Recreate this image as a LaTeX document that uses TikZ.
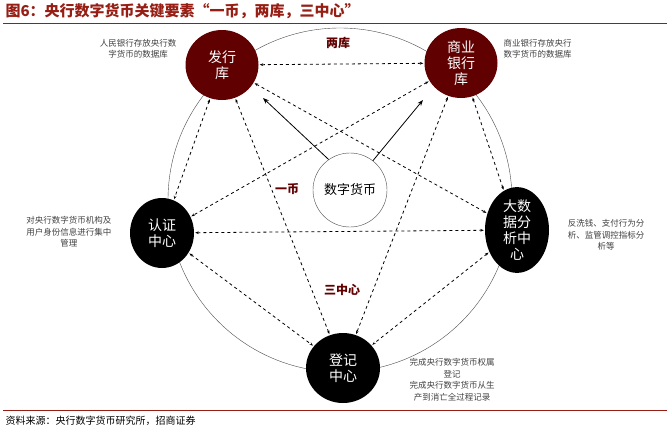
\documentclass[tikz,border=0pt]{standalone}
\usepackage{fontspec}
\setmainfont{Noto Sans CJK SC}
\usetikzlibrary{arrows.meta,shapes.geometric}
\definecolor{darkred}{RGB}{96,0,0}
\definecolor{titlered}{RGB}{150,30,20}

\begin{document}
\begin{tikzpicture}[x=1pt,y=-1pt,
  vault/.style={ellipse,fill=darkred,minimum width=73pt,minimum height=70pt,inner sep=0pt,
    text=white,align=center,font=\fontsize{14}{16}\selectfont},
  centre/.style={ellipse,fill=black,minimum width=64pt,minimum height=70pt,inner sep=0pt,
    text=white,align=center,font=\fontsize{14}{16}\selectfont},
  note/.style={align=center,font=\fontsize{8.5}{11.5}\selectfont,text=black!75},
  tag/.style={font=\bfseries\fontsize{12}{14}\selectfont,text=darkred},
  link/.style={dashed,thick,{Stealth[length=3.5pt]}-{Stealth[length=3.5pt]},shorten <=1pt,shorten >=1pt},
  push/.style={thick,-{Stealth[length=6pt]}}]
\useasboundingbox (0,0) rectangle (670,434);
% title and source
\node[anchor=west,font=\bfseries\fontsize{15}{17}\selectfont,text=titlered] (title) at (2,11)
  {图6：央行数字货币关键要素“一币，两库，三中心”};
\draw[titlered,thick] (3,23) -- (667,23);
\draw[titlered,thick] (3,410) -- (667,410);
\node[anchor=west,font=\fontsize{10}{12}\selectfont] (source) at (2,421) {资料来源：央行数字货币研究所，招商证券};
% ring
\draw[black!70] (340,200) circle (172);
% nodes
\node[vault] (issue) at (222,65) {发行\\库};
\node[vault] (bank) at (461,63) {商业\\银行\\库};
\node[centre] (auth) at (162,233) {认证\\中心};
\node[centre] (data) at (517,230) {大数\\据分\\析中\\心};
\node[centre,minimum width=74pt] (reg) at (343,368) {登记\\中心};
\node[circle,draw=black!70,fill=white,minimum size=74pt,font=\fontsize{13}{15}\selectfont] (coin) at (350,190) {数字货币};
% labels
\node[tag] (two) at (338,43) {两库};
\node[tag] (one) at (287,189) {一币};
\node[tag] (three) at (342,290) {三中心};
\node[note,anchor=east] (issuenote) at (180,49) {人民银行存放央行数\\字货币的数据库};
\node[note,anchor=west] (banknote) at (500,49) {商业银行存放央行\\数字货币的数据库};
\node[note] (authnote) at (69,232) {对央行数字货币机构及\\用户身份信息进行集中\\管理};
\node[note] (datanote) at (606,235) {反洗钱、支付行为分\\析、监管调控指标分\\析等};
\node[note] (regnote) at (452,380) {完成央行数字货币权属\\登记\\完成央行数字货币从生\\产到消亡全过程记录};
% connectors
\draw[link] (issue) -- (bank);
\draw[link] (issue) -- (data);
\draw[link] (issue) -- (auth);
\draw[link] (issue) -- (reg);
\draw[link] (bank) -- (auth);
\draw[link] (bank) -- (data);
\draw[link] (bank) -- (reg);
\draw[link] (auth) -- (data);
\draw[link] (auth) -- (reg);
\draw[link] (data) -- (reg);
\coordinate (issuetip) at (263,98);
\coordinate (banktip) at (423,100);
\draw[push] (coin.125) -- (issuetip);
\draw[push] (coin.52) -- (banktip);
\end{tikzpicture}
\end{document}
